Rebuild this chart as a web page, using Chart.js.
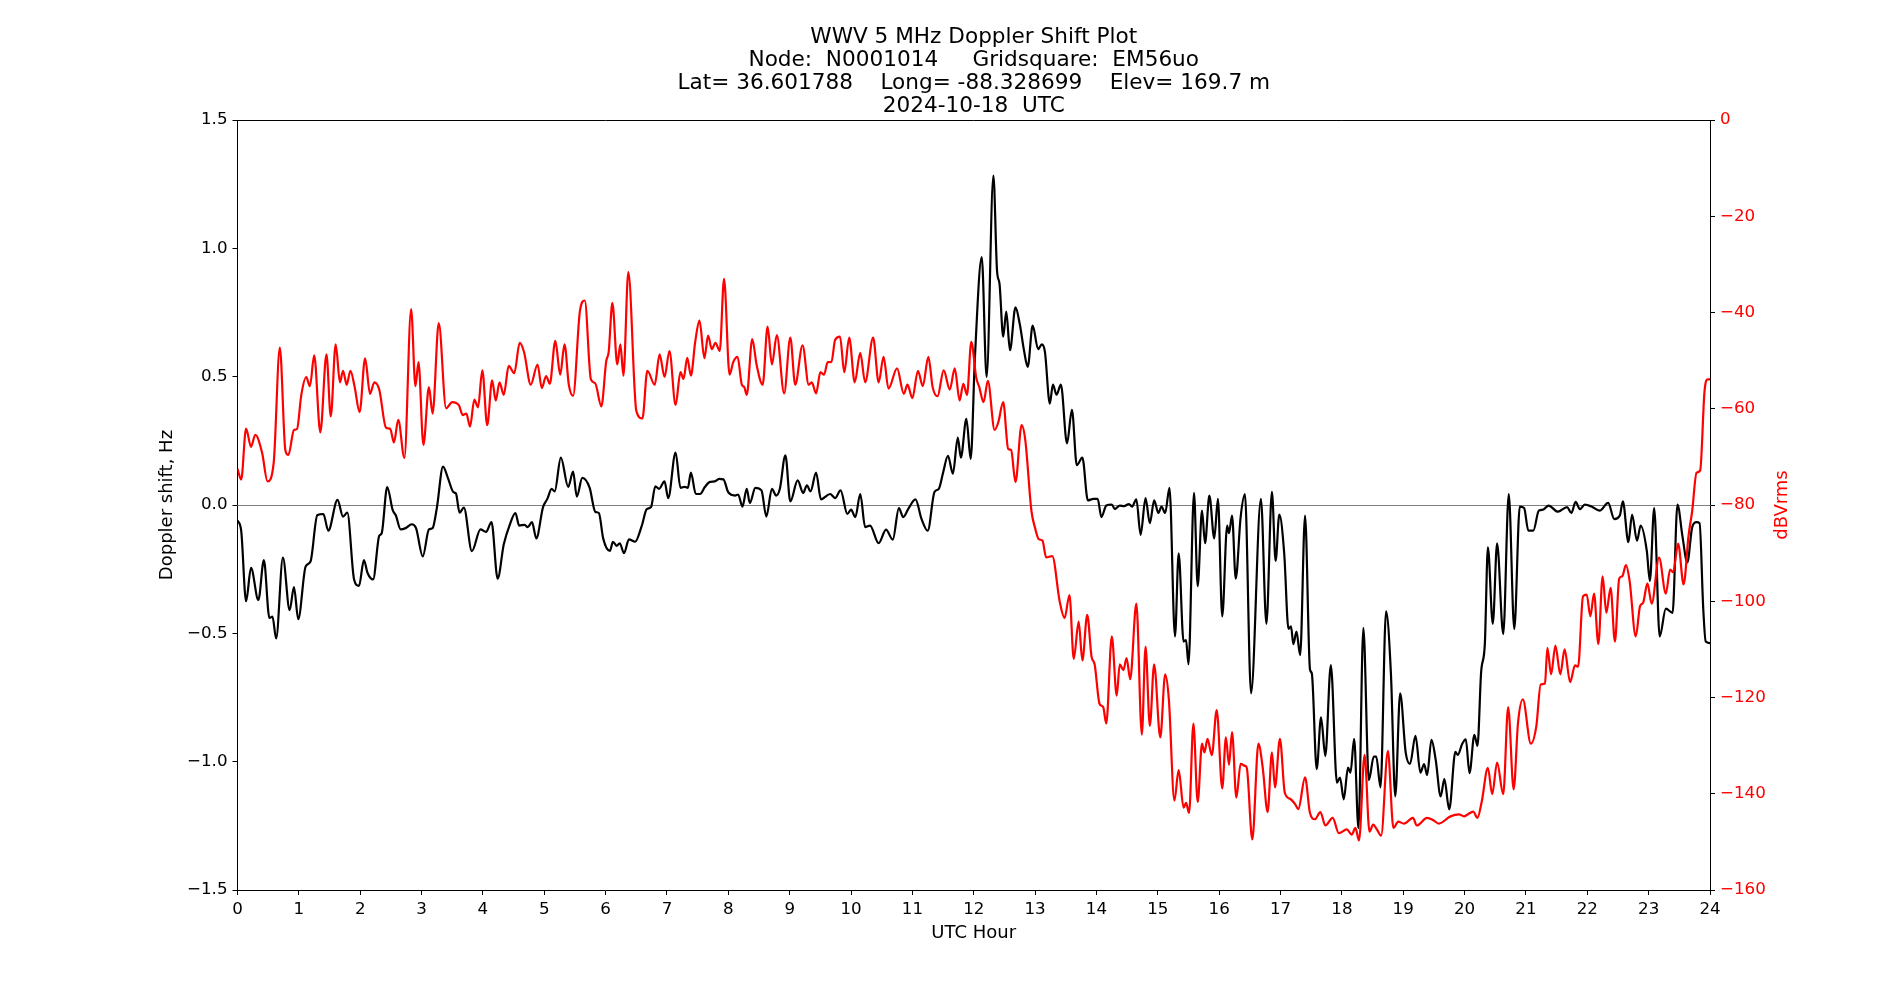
<!DOCTYPE html>
<html>
<head>
<meta charset="utf-8">
<script src="https://cdn.jsdelivr.net/npm/chart.js@4.4.1/dist/chart.umd.min.js"></script>
<style>
  html, body { margin: 0; padding: 0; background: #fff; }
</style>
</head>
<body>
<canvas id="doppler" width="1900" height="1000"></canvas>
<script>
// title lines
const titleLines = [
  "WWV 5 MHz Doppler Shift Plot",
  "Node:  N0001014     Gridsquare:  EM56uo",
  "Lat= 36.601788    Long= -88.328699    Elev= 169.7 m",
  "2024-10-18  UTC"
];

// tick labels
const hzTickValues = [-1.5, -1.0, -0.5, 0.0, 0.5, 1.0, 1.5];
const hzTickLabels = ["\u22121.5", "\u22121.0", "\u22120.5", "0.0", "0.5", "1.0", "1.5"];
const dbTickValues = [-160, -140, -120, -100, -80, -60, -40, -20, 0];
const dbTickLabels = ["\u2212160", "\u2212140", "\u2212120", "\u2212100", "\u221280", "\u221260", "\u221240", "\u221220", "0"];

// doppler shift (Hz)
const dopplerHours = [
  0.00, 0.06, 0.14, 0.22, 0.34, 0.43, 0.52, 0.57, 0.63, 0.74, 0.85, 0.92, 0.99, 1.11, 1.19, 1.30, 1.40, 1.48,
  1.63, 1.72, 1.79, 1.90, 1.98, 2.06, 2.12, 2.21, 2.31, 2.35, 2.44, 2.53, 2.58, 2.66, 2.74, 2.84, 2.91, 3.02,
  3.12, 3.18, 3.25, 3.35, 3.43, 3.52, 3.56, 3.62, 3.69, 3.82, 3.96, 4.05, 4.14, 4.24, 4.34, 4.44, 4.53, 4.59,
  4.68, 4.73, 4.80, 4.87, 4.98, 5.05, 5.12, 5.17, 5.27, 5.39, 5.47, 5.53, 5.62, 5.74, 5.83, 5.89, 5.96, 6.07,
  6.12, 6.18, 6.23, 6.30, 6.38, 6.48, 6.59, 6.67, 6.74, 6.81, 6.87, 6.96, 7.02, 7.14, 7.22, 7.29, 7.34, 7.39,
  7.47, 7.54, 7.62, 7.70, 7.78, 7.85, 7.92, 8.00, 8.11, 8.16, 8.23, 8.30, 8.35, 8.44, 8.54, 8.62, 8.71, 8.78,
  8.84, 8.93, 9.01, 9.13, 9.22, 9.28, 9.34, 9.43, 9.51, 9.66, 9.74, 9.83, 9.94, 10.00, 10.07, 10.15, 10.23, 10.31,
  10.45, 10.57, 10.68, 10.78, 10.85, 10.94, 11.05, 11.15, 11.25, 11.36, 11.43, 11.50, 11.58, 11.66, 11.74, 11.79, 11.88, 11.95,
  12.02, 12.13, 12.21, 12.32, 12.38, 12.42, 12.48, 12.53, 12.59, 12.68, 12.75, 12.82, 12.88, 12.96, 13.05, 13.11, 13.16, 13.24,
  13.29, 13.35, 13.42, 13.52, 13.60, 13.68, 13.77, 13.86, 13.95, 14.02, 14.08, 14.16, 14.25, 14.30, 14.38, 14.45, 14.53, 14.58,
  14.65, 14.72, 14.80, 14.87, 14.94, 15.01, 15.06, 15.12, 15.19, 15.28, 15.34, 15.42, 15.46, 15.50, 15.59, 15.65, 15.72, 15.77,
  15.84, 15.92, 15.98, 16.05, 16.13, 16.16, 16.21, 16.27, 16.35, 16.42, 16.52, 16.68, 16.77, 16.86, 16.92, 16.98, 17.06, 17.13,
  17.17, 17.21, 17.26, 17.32, 17.40, 17.48, 17.51, 17.59, 17.66, 17.73, 17.82, 17.92, 17.97, 18.03, 18.10, 18.14, 18.20, 18.27,
  18.35, 18.44, 18.52, 18.56, 18.63, 18.72, 18.80, 18.87, 18.95, 19.04, 19.11, 19.20, 19.28, 19.34, 19.39, 19.46, 19.53, 19.61,
  19.67, 19.75, 19.85, 19.89, 19.96, 20.02, 20.08, 20.16, 20.21, 20.27, 20.33, 20.38, 20.46, 20.53, 20.63, 20.72, 20.81, 20.90,
  20.97, 21.04, 21.12, 21.21, 21.28, 21.37, 21.52, 21.67, 21.74, 21.81, 21.88, 21.96, 22.07, 22.20, 22.34, 22.44, 22.53, 22.58,
  22.67, 22.73, 22.81, 22.87, 22.97, 23.02, 23.09, 23.18, 23.28, 23.39, 23.47, 23.55, 23.63, 23.71, 23.78, 23.83, 23.89, 23.93,
  24.00
];
const dopplerHz = [
  -0.06, -0.10, -0.375, -0.245, -0.37, -0.215, -0.44, -0.435, -0.52, -0.205, -0.41, -0.32, -0.445, -0.24, -0.22, -0.04, -0.035, -0.10,
  0.02, -0.045, -0.03, -0.29, -0.315, -0.215, -0.265, -0.29, -0.12, -0.11, 0.07, -0.02, -0.04, -0.095, -0.09, -0.075, -0.09, -0.20,
  -0.095, -0.09, -0.01, 0.15, 0.105, 0.05, 0.045, -0.03, -0.01, -0.18, -0.095, -0.105, -0.067, -0.287, -0.153, -0.075, -0.031, -0.08,
  -0.077, -0.086, -0.067, -0.13, -0.008, 0.024, 0.063, 0.053, 0.185, 0.071, 0.13, 0.033, 0.106, 0.067, -0.026, -0.031, -0.13, -0.179,
  -0.143, -0.159, -0.149, -0.188, -0.134, -0.143, -0.08, -0.016, -0.008, 0.073, 0.063, 0.092, 0.027, 0.204, 0.067, 0.071, 0.067, 0.126,
  0.043, 0.043, 0.071, 0.09, 0.092, 0.102, 0.10, 0.049, 0.037, 0.041, -0.006, 0.063, 0.008, 0.067, 0.057, -0.045, 0.063, 0.037,
  0.063, 0.194, 0.014, 0.096, 0.047, 0.077, 0.053, 0.126, 0.022, 0.043, 0.027, 0.057, -0.035, -0.018, -0.047, 0.043, -0.086, -0.08,
  -0.149, -0.096, -0.135, -0.012, -0.047, -0.012, 0.022, -0.055, -0.10, 0.051, 0.063, 0.126, 0.192, 0.122, 0.263, 0.185, 0.336, 0.18,
  0.58, 0.966, 0.499, 1.284, 0.911, 0.862, 0.656, 0.754, 0.603, 0.77, 0.705, 0.601, 0.538, 0.699, 0.607, 0.626, 0.597, 0.395,
  0.469, 0.43, 0.469, 0.24, 0.371, 0.155, 0.185, 0.018, 0.024, 0.024, -0.047, -0.002, 0.002, -0.016, -0.002, -0.004, 0.004, -0.006,
  0.022, -0.116, 0.027, -0.071, 0.018, -0.031, -0.006, -0.031, 0.067, -0.512, -0.188, -0.532, -0.526, -0.62, 0.047, -0.316, -0.022, -0.149,
  0.037, -0.13, 0.024, -0.434, -0.08, -0.11, -0.041, -0.287, -0.047, 0.043, -0.734, 0.024, -0.463, 0.051, -0.218, -0.037, -0.188, -0.483,
  -0.473, -0.542, -0.493, -0.585, -0.041, -0.64, -0.656, -1.029, -0.827, -0.978, -0.624, -1.082, -1.062, -1.147, -1.023, -1.043, -0.911, -1.259,
  -0.479, -1.072, -0.98, -0.98, -1.10, -0.414, -0.66, -1.135, -0.734, -0.964, -1.009, -0.899, -1.043, -1.009, -1.052, -0.915, -0.994, -1.135,
  -1.068, -1.186, -0.962, -0.974, -0.931, -0.913, -1.045, -0.895, -0.939, -0.65, -0.542, -0.165, -0.463, -0.149, -0.503, 0.043, -0.483, -0.006,
  -0.012, -0.10, -0.10, -0.022, -0.018, -0.002, -0.026, -0.008, -0.031, 0.012, -0.016, 0.002, -0.006, -0.022, 0.008, -0.055, -0.041, 0.014,
  -0.145, -0.037, -0.139, -0.08, -0.179, -0.296, -0.012, -0.512, -0.404, -0.42, 0.002, -0.12, -0.224, -0.086, -0.067, -0.071, -0.404, -0.532,
  -0.538
];

// signal level (dBVrms)
const levelHours = [
  0.00, 0.06, 0.14, 0.22, 0.29, 0.40, 0.49, 0.59, 0.69, 0.78, 0.83, 0.92, 0.97, 1.04, 1.12, 1.18, 1.25, 1.35,
  1.45, 1.52, 1.60, 1.67, 1.72, 1.78, 1.84, 1.91, 1.99, 2.08, 2.16, 2.23, 2.31, 2.42, 2.49, 2.55, 2.62, 2.72,
  2.83, 2.90, 2.95, 3.03, 3.12, 3.18, 3.28, 3.40, 3.50, 3.61, 3.67, 3.73, 3.79, 3.86, 3.92, 3.99, 4.07, 4.15,
  4.21, 4.27, 4.34, 4.42, 4.51, 4.60, 4.67, 4.78, 4.89, 4.96, 5.03, 5.09, 5.18, 5.26, 5.33, 5.40, 5.47, 5.58,
  5.66, 5.76, 5.83, 5.93, 6.01, 6.05, 6.11, 6.19, 6.24, 6.29, 6.37, 6.50, 6.60, 6.68, 6.80, 6.88, 6.96, 7.04,
  7.14, 7.22, 7.27, 7.33, 7.39, 7.46, 7.53, 7.61, 7.67, 7.73, 7.79, 7.86, 7.93, 8.02, 8.08, 8.15, 8.22, 8.26,
  8.30, 8.39, 8.46, 8.56, 8.64, 8.71, 8.79, 8.91, 9.01, 9.09, 9.21, 9.31, 9.36, 9.43, 9.50, 9.56, 9.62, 9.68,
  9.74, 9.82, 9.89, 9.97, 10.06, 10.15, 10.23, 10.36, 10.45, 10.53, 10.61, 10.75, 10.86, 10.92, 11.00, 11.09, 11.17, 11.26,
  11.33, 11.41, 11.51, 11.61, 11.69, 11.77, 11.83, 11.89, 11.96, 12.04, 12.09, 12.16, 12.23, 12.34, 12.40, 12.48, 12.56, 12.61,
  12.68, 12.78, 12.84, 12.94, 13.00, 13.06, 13.12, 13.18, 13.28, 13.40, 13.48, 13.56, 13.63, 13.71, 13.77, 13.85, 13.92, 13.97,
  14.05, 14.11, 14.16, 14.25, 14.33, 14.38, 14.44, 14.49, 14.55, 14.65, 14.74, 14.80, 14.87, 14.94, 15.04, 15.12, 15.18, 15.27,
  15.34, 15.42, 15.46, 15.51, 15.58, 15.65, 15.72, 15.76, 15.81, 15.88, 15.96, 16.05, 16.11, 16.16, 16.21, 16.28, 16.35, 16.42,
  16.45, 16.54, 16.64, 16.71, 16.79, 16.86, 16.91, 16.99, 17.07, 17.16, 17.24, 17.29, 17.40, 17.48, 17.56, 17.65, 17.73, 17.85,
  17.95, 18.08, 18.16, 18.22, 18.28, 18.37, 18.45, 18.51, 18.57, 18.64, 18.75, 18.84, 18.92, 19.01, 19.16, 19.22, 19.39, 19.49,
  19.58, 19.77, 19.91, 19.99, 20.05, 20.14, 20.21, 20.28, 20.38, 20.45, 20.53, 20.63, 20.71, 20.80, 20.87, 20.95, 21.08, 21.17,
  21.24, 21.31, 21.35, 21.41, 21.48, 21.56, 21.63, 21.72, 21.80, 21.85, 21.93, 21.99, 22.05, 22.11, 22.18, 22.25, 22.31, 22.38,
  22.45, 22.52, 22.57, 22.63, 22.69, 22.79, 22.86, 22.91, 22.98, 23.05, 23.17, 23.28, 23.35, 23.40, 23.48, 23.57, 23.65, 23.71,
  23.78, 23.84, 23.91, 23.96, 24.00
];
const levelDb = [
  -72.5, -74.7, -64.1, -67.9, -65.4, -69.1, -75.1, -71.2, -47.3, -68.6, -69.6, -64.4, -64.2, -57.1, -53.4, -55.3, -48.9, -64.9,
  -48.7, -61.6, -46.6, -54.5, -52.1, -55.0, -52.1, -55.5, -60.7, -49.5, -56.9, -54.5, -56.0, -63.9, -64.2, -67.0, -62.3, -70.2,
  -39.3, -55.3, -50.3, -67.5, -55.5, -61.0, -42.2, -59.9, -58.6, -59.3, -61.3, -61.0, -63.7, -58.1, -59.7, -52.0, -63.4, -54.1,
  -58.3, -54.5, -57.1, -51.1, -52.6, -46.3, -48.2, -55.0, -50.8, -55.7, -53.2, -54.8, -45.9, -52.9, -46.6, -55.0, -57.3, -39.8,
  -37.5, -53.9, -54.7, -59.5, -50.1, -48.2, -38.0, -50.8, -46.6, -53.1, -31.6, -60.4, -62.0, -52.1, -55.0, -48.7, -53.4, -48.0,
  -59.2, -52.4, -53.8, -49.4, -53.1, -46.1, -41.7, -49.5, -44.8, -47.6, -46.3, -48.0, -33.0, -52.9, -50.3, -49.2, -55.0, -55.5,
  -57.1, -45.5, -50.8, -55.0, -42.9, -50.8, -44.7, -56.8, -45.2, -55.0, -46.8, -55.0, -54.5, -56.8, -52.4, -52.9, -50.3, -50.3,
  -45.7, -45.0, -52.4, -45.2, -54.5, -48.4, -54.5, -45.2, -54.5, -49.2, -55.8, -51.6, -56.9, -55.0, -57.8, -52.1, -55.3, -49.2,
  -55.5, -57.4, -52.0, -56.0, -51.6, -58.3, -54.8, -57.1, -46.1, -53.5, -55.5, -58.6, -54.2, -64.4, -62.8, -58.6, -68.3, -68.6,
  -75.2, -63.4, -66.5, -81.2, -84.8, -87.1, -87.4, -90.9, -90.6, -100.0, -103.5, -98.7, -112.0, -104.2, -112.3, -102.8, -111.5, -113.1,
  -121.3, -122.0, -125.4, -107.3, -119.6, -113.1, -114.3, -111.8, -116.2, -100.5, -127.7, -109.4, -125.9, -113.1, -128.3, -115.2, -120.4, -141.4,
  -135.1, -142.9, -141.9, -144.0, -125.4, -141.7, -129.6, -131.4, -128.6, -132.0, -122.6, -138.9, -128.3, -134.0, -127.2, -140.8, -133.8, -134.2,
  -134.6, -149.5, -129.6, -134.6, -143.8, -131.4, -138.7, -128.6, -139.8, -141.1, -142.2, -143.2, -136.6, -144.0, -145.3, -143.8, -146.6, -145.0,
  -148.2, -147.4, -148.5, -147.1, -149.7, -131.9, -147.9, -146.4, -147.4, -148.7, -131.1, -147.1, -145.8, -146.2, -145.0, -146.6, -145.0, -145.5,
  -146.2, -144.7, -144.3, -144.7, -144.3, -143.7, -145.0, -141.6, -134.6, -140.1, -133.5, -140.1, -122.0, -139.1, -125.4, -120.4, -129.6, -125.9,
  -117.3, -117.1, -109.7, -115.2, -109.2, -115.2, -110.0, -116.8, -113.3, -113.6, -99.0, -98.6, -103.1, -98.4, -108.9, -94.8, -102.4, -97.2,
  -108.4, -95.3, -94.8, -92.5, -95.8, -107.3, -101.0, -100.3, -96.3, -100.5, -90.9, -98.4, -93.4, -94.0, -88.0, -96.5, -86.4, -81.2,
  -73.3, -72.8, -56.5, -53.9, -53.9
];

Chart.defaults.font.family = "'DejaVu Sans', sans-serif";
Chart.defaults.color = "#000";

// matplotlib-like frame top edge and the right axis label (reads bottom to top)
const frameExtras = {
  id: "frameExtras",
  afterDraw(chart) {
    const { ctx, chartArea } = chart;
    ctx.save();
    ctx.strokeStyle = "#000";
    ctx.lineWidth = 1;
    ctx.beginPath();
    ctx.moveTo(chartArea.left, Math.round(chartArea.top) + 0.5);
    ctx.lineTo(chartArea.right, Math.round(chartArea.top) + 0.5);
    ctx.stroke();

    ctx.translate(chartArea.right + 72, (chartArea.top + chartArea.bottom) / 2);
    ctx.rotate(-Math.PI / 2);
    ctx.fillStyle = "red";
    ctx.font = "18px 'DejaVu Sans'";
    ctx.textAlign = "center";
    ctx.textBaseline = "middle";
    ctx.fillText("dBVrms", 0, 0);
    ctx.restore();
  }
};

const tickFont = { size: 16.7 };
const labelFont = { size: 18 };

new Chart(document.getElementById("doppler"), {
  type: "line",
  data: {
    datasets: [
      {
        label: "dBVrms",
        data: levelHours.map((h, i) => ({ x: h, y: levelDb[i] })),
        yAxisID: "yDb",
        borderColor: "red",
        borderWidth: 2.2,
        pointRadius: 0,
        cubicInterpolationMode: "monotone",
        fill: false
      },
      {
        label: "Doppler shift",
        data: dopplerHours.map((h, i) => ({ x: h, y: dopplerHz[i] })),
        yAxisID: "yHz",
        borderColor: "#000",
        borderWidth: 2.2,
        pointRadius: 0,
        cubicInterpolationMode: "monotone",
        fill: false
      }
    ]
  },
  options: {
    responsive: false,
    animation: false,
    devicePixelRatio: 1,
    events: [],
    layout: { padding: 0 },
    plugins: {
      legend: { display: false },
      tooltip: { enabled: false },
      title: {
        display: true,
        fullSize: false,
        text: titleLines,
        color: "#000",
        font: { size: 21.6, weight: "normal", lineHeight: 1.07 },
        padding: { top: 25.4, bottom: 2.2 }
      }
    },
    scales: {
      x: {
        type: "linear",
        min: 0,
        max: 24,
        afterFit(scale) { scale.height = 110; },
        ticks: { stepSize: 1, autoSkip: false, maxRotation: 0, padding: 5, font: tickFont, color: "#000" },
        grid: { drawOnChartArea: false, tickLength: 5, tickColor: "#000" },
        border: { color: "#000", width: 1 },
        title: {
          display: true,
          text: "UTC Hour",
          font: labelFont,
          color: "#000",
          padding: { top: 0, bottom: 56.2 }
        }
      },
      yHz: {
        position: "left",
        min: -1.5,
        max: 1.5,
        afterFit(scale) { scale.width = 237.5; },
        ticks: {
          stepSize: 0.5,
          padding: 5,
          font: tickFont,
          color: "#000",
          callback: (v) => hzTickLabels[hzTickValues.indexOf(Math.round(v * 10) / 10)]
        },
        grid: {
          drawOnChartArea: true,
          tickLength: 5,
          tickColor: "#000",
          color: (c) => (c.tick && Math.abs(c.tick.value) < 1e-9 ? "#808080" : "rgba(0,0,0,0)")
        },
        border: { color: "#000", width: 1 },
        title: {
          display: true,
          text: "Doppler shift, Hz",
          font: labelFont,
          color: "#000",
          padding: { top: 156.2, bottom: 0 }
        }
      },
      yDb: {
        position: "right",
        min: -160,
        max: 0,
        afterFit(scale) { scale.width = 190; },
        ticks: {
          stepSize: 20,
          padding: 5,
          font: tickFont,
          color: "red",
          callback: (v) => dbTickLabels[dbTickValues.indexOf(Math.round(v))]
        },
        grid: { drawOnChartArea: false, tickLength: 5, tickColor: "#000" },
        border: { color: "#000", width: 1 }
      }
    }
  },
  plugins: [frameExtras]
});
</script>
</body>
</html>
